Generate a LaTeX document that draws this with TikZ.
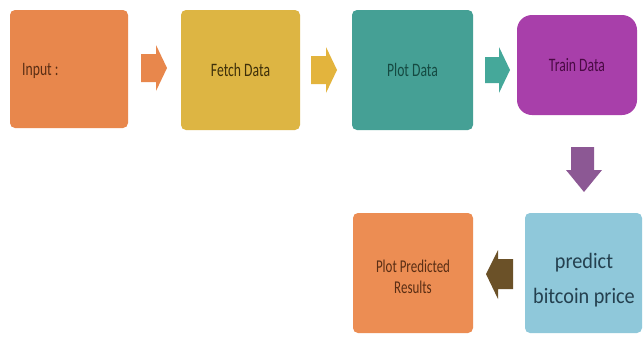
\documentclass[tikz,border=0pt]{standalone}
\usepackage{fontspec}
\setmainfont{Carlito}
\newfontfamily\labfont[FakeStretch=0.72]{Carlito}
\newfontfamily\bigfont[FakeStretch=0.92]{Carlito}
\definecolor{cOrange}{HTML}{E8874C}
\definecolor{cOrangeB}{HTML}{EC8D53}
\definecolor{cYellow}{HTML}{DDB543}
\definecolor{cTeal}{HTML}{45A095}
\definecolor{cPurple}{HTML}{A83FAA}
\definecolor{cBlue}{HTML}{8FC8DA}
\definecolor{aOrange}{HTML}{E8874C}
\definecolor{aYellow}{HTML}{E3B43D}
\definecolor{aTeal}{HTML}{45A89A}
\definecolor{aPurple}{HTML}{8C5894}
\definecolor{aBrown}{HTML}{6B5128}
\definecolor{tOrange}{HTML}{5A2E14}
\definecolor{tYellow}{HTML}{3E300A}
\definecolor{tTeal}{HTML}{154A42}
\definecolor{tPurple}{HTML}{4A0A44}
\definecolor{tBlue}{HTML}{24404F}
\tikzset{
  box/.style={rounded corners=5pt, inner sep=0pt, font=\labfont\fontsize{19}{21}\selectfont, align=center},
}
\begin{document}
\begin{tikzpicture}[x=1pt,y=-1pt]
\useasboundingbox[fill=white] (0,0) rectangle (643,338);
% boxes
\node[box, fill=cOrange, minimum width=118pt, minimum height=118pt] (input) at (69,69) {};
\node[anchor=west, font=\labfont\fontsize{19}{21}\selectfont, text=tOrange, inner sep=0pt] (inputlab) at (22,71) {Input :};
\node[box, fill=cYellow, text=tYellow, minimum width=119pt, minimum height=120pt] (fetch) at (240.5,70) {Fetch Data};
\node[box, fill=cTeal, text=tTeal, minimum width=121pt, minimum height=120pt] (plot) at (412.5,70) {Plot Data};
\node[box, rounded corners=15pt, fill=cPurple, text=tPurple, minimum width=120pt, minimum height=100pt] (train) at (577,65) {Train Data};
\node[box, fill=cBlue, text=tBlue, minimum width=117pt, minimum height=120pt] (predict) at (583.5,273) {};
\node[font=\bigfont\fontsize{22}{35}\selectfont, text=tBlue, align=center, inner sep=0pt] (predictlab) at (584,280) {predict\\bitcoin price};
\node[box, fill=cOrangeB, minimum width=120pt, minimum height=120pt] (result) at (413,273) {};
\node[font=\labfont\fontsize{18}{21}\selectfont, text=tOrange, align=center, inner sep=0pt] (resultlab) at (413,277) {Plot Predicted\\Results};
% block arrows
\fill[aOrange] (141,54) -- (156,54) -- (156,45) -- (167,68) -- (156,91) -- (156,82) -- (141,82) -- cycle;
\fill[aYellow] (311,56) -- (326,56) -- (326,47) -- (337,70) -- (326,93) -- (326,84) -- (311,84) -- cycle;
\fill[aTeal] (485,57) -- (499,57) -- (499,47) -- (510,70) -- (499,93) -- (499,83) -- (485,83) -- cycle;
\fill[aPurple] (571,147) -- (594,147) -- (594,170) -- (602,170) -- (584,192) -- (566,170) -- (571,170) -- cycle;
\fill[aBrown] (513,259) -- (498,259) -- (498,250) -- (486,274) -- (498,299) -- (498,289) -- (513,289) -- cycle;
\end{tikzpicture}
\end{document}
